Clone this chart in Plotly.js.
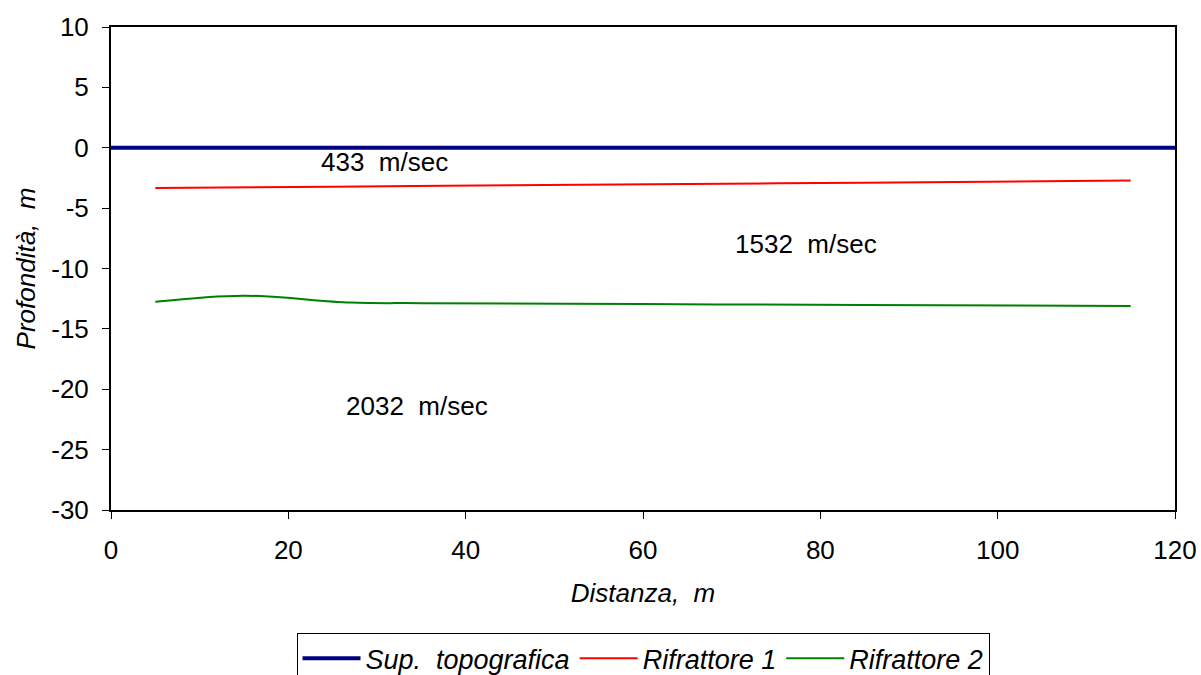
<!DOCTYPE html>
<html>
<head>
<meta charset="utf-8">
<script src="https://cdn.plot.ly/plotly-3.0.1.min.js"></script>
<style>html,body{margin:0;padding:0;background:#fff;}#chart{width:1201px;height:675px;}</style>
</head>
<body>
<div id="chart"></div>
<script>
// Data
var supX = [0, 120];
var supY = [0, 0];
var rif1X = [5, 25, 45, 65, 85, 105, 115];
var rif1Y = [-3.33, -3.22, -3.11, -3.0, -2.89, -2.78, -2.72];
var rif2X = [5, 15, 27, 35, 60, 85, 115];
var rif2Y = [-12.75, -12.25, -12.82, -12.87, -12.95, -13.02, -13.1];
var velLabels = ["433  m/sec", "1532  m/sec", "2032  m/sec"];
var velX = [30.9, 78.4, 34.5];
var velY = [-1.2, -8.0, -21.4];
var seriesNames = ["Sup.  topografica", "Rifrattore 1", "Rifrattore 2"];
var xTicks = [0, 20, 40, 60, 80, 100, 120];
var xTickText = ["0", "20", "40", "60", "80", "100", "120"];
var yTicks = [10, 5, 0, -5, -10, -15, -20, -25, -30];
var yTickText = ["10", "5", "0", "-5", "-10", "-15", "-20", "-25", "-30"];

var nb = function(s){ return s.replace(/ /g, "\u00A0"); };
var font = "Arial, 'Liberation Sans', sans-serif";

var traces = [
  {x: supX, y: supY, mode: "lines", name: "<i>" + nb(seriesNames[0]) + "</i>", line: {color: "#000080", width: 4}},
  {x: rif1X, y: rif1Y, mode: "lines", name: "<i>" + nb(seriesNames[1]) + "</i>", line: {color: "#ff0000", width: 2, shape: "spline"}},
  {x: rif2X, y: rif2Y, mode: "lines", name: "<i>" + nb(seriesNames[2]) + "</i>", line: {color: "#008000", width: 2, shape: "spline", smoothing: 1}}
];

var annotations = velLabels.map(function(t, i){
  return {x: velX[i], y: velY[i], xref: "x", yref: "y", text: nb(t), showarrow: false,
          font: {family: font, size: 26, color: "#000"}};
});

var layout = {
  width: 1201, height: 675,
  margin: {l: 111, r: 26, t: 27, b: 165, autoexpand: false},
  paper_bgcolor: "#fff", plot_bgcolor: "#fff",
  font: {family: font, size: 26, color: "#000"},
  showlegend: true,
  xaxis: {
    range: [0, 120], tickmode: "array", tickvals: xTicks, ticktext: xTickText,
    showgrid: false, zeroline: false, automargin: false,
    showline: true, linecolor: "#000", linewidth: 2, mirror: true,
    ticks: "outside", ticklen: 7, tickwidth: 1, tickcolor: "#000",
    ticklabelstandoff: 9,
    tickfont: {family: font, size: 26, color: "#000"},
    title: {text: nb("<i>Distanza,  m</i>"), font: {family: font, size: 26, color: "#000"}, standoff: 20}
  },
  yaxis: {
    range: [-30, 10], tickmode: "array", tickvals: yTicks, ticktext: yTickText,
    showgrid: false, zeroline: false, automargin: false,
    showline: true, linecolor: "#000", linewidth: 2, mirror: true,
    ticks: "outside", ticklen: 7, tickwidth: 1, tickcolor: "#000",
    ticklabelstandoff: 8,
    tickfont: {family: font, size: 26, color: "#000"},
    title: {text: nb("<i>Profondità,  m</i>"), font: {family: font, size: 26, color: "#000"}, standoff: 8}
  },
  legend: {
    orientation: "h", x: 0.5, xanchor: "center", y: -0.255, yanchor: "top",
    bordercolor: "#000", borderwidth: 1, bgcolor: "#fff",
    font: {family: font, size: 27, color: "#000"},
    itemwidth: 58, traceorder: "normal"
  },
  annotations: annotations
};

Plotly.newPlot("chart", traces, layout, {displayModeBar: false, staticPlot: true});
</script>
</body>
</html>
